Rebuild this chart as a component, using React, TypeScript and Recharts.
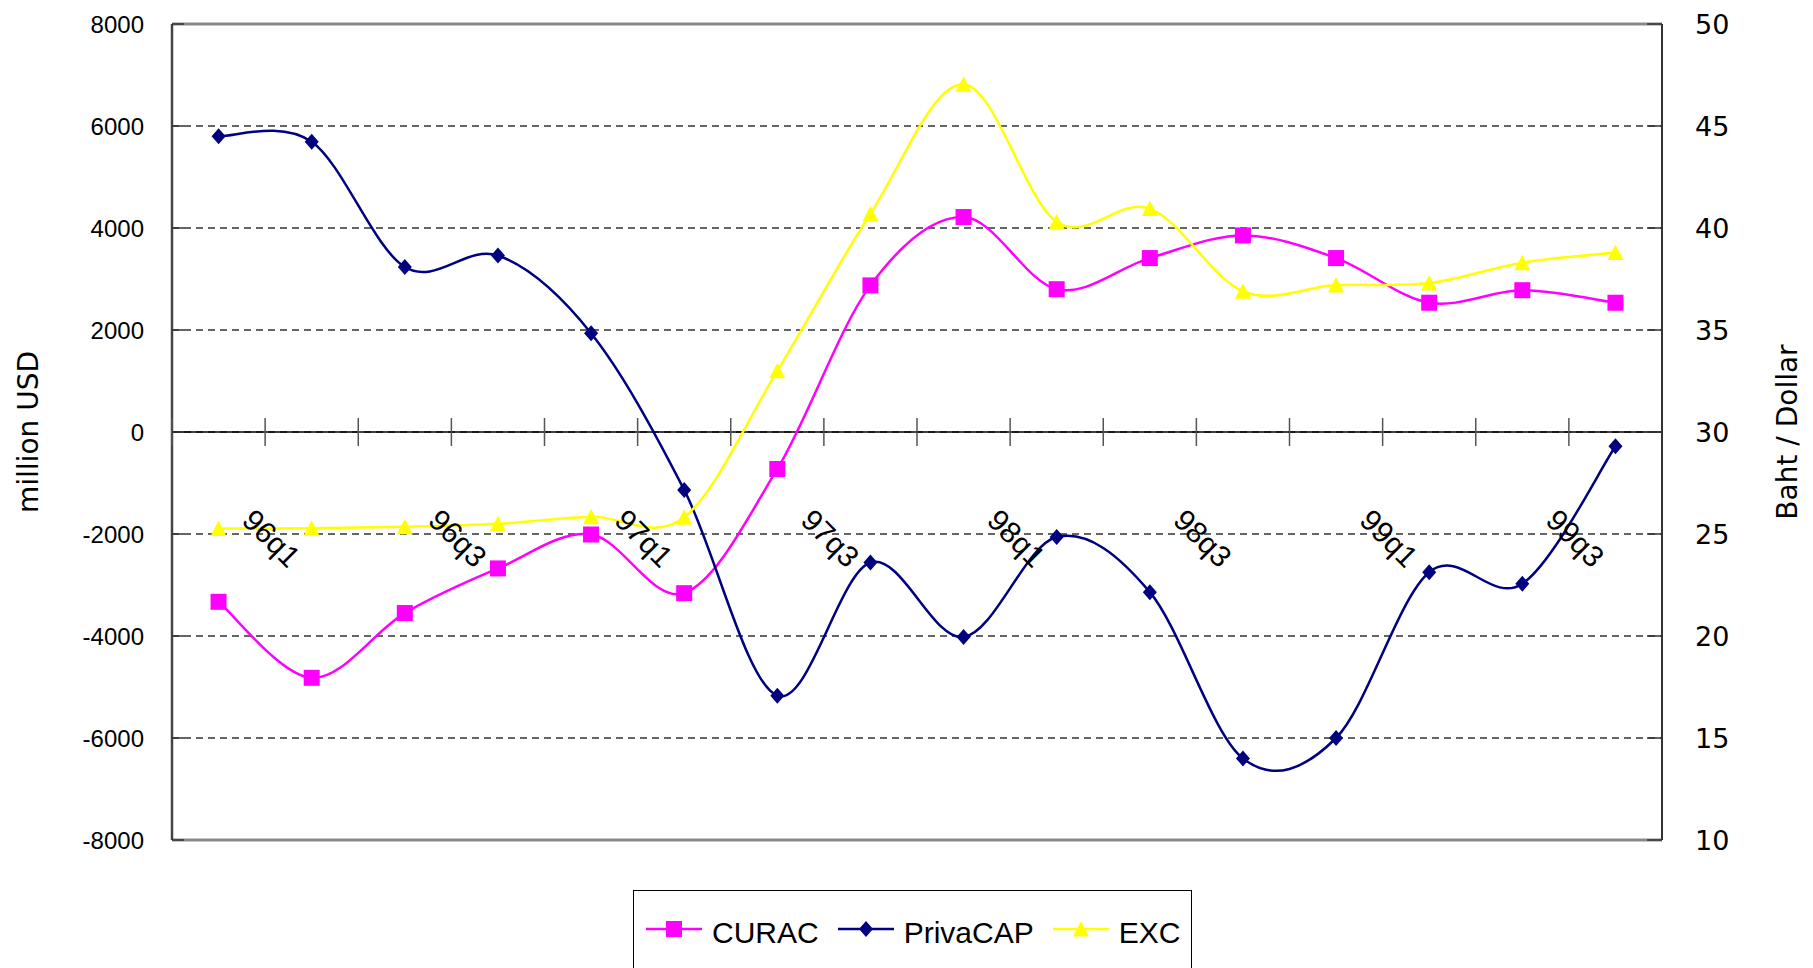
import React from 'react';
import { LineChart, Line, XAxis, YAxis, CartesianGrid, ReferenceLine, Legend } from 'recharts';

// quarterly figures
const quarters = ['96q1', '96q2', '96q3', '96q4', '97q1', '97q2', '97q3', '97q4', '98q1', '98q2', '98q3', '98q4', '99q1', '99q2', '99q3', '99q4'];
const curac = [-3330, -4820, -3550, -2675, -2010, -3160, -725, 2875, 4215, 2800, 3410, 3855, 3410, 2535, 2780, 2535];
const privaCap = [5800, 5690, 3235, 3460, 1935, -1135, -5170, -2560, -4020, -2060, -3140, -6400, -6000, -2750, -2975, -280];
const exc = [25.27, 25.28, 25.35, 25.5, 25.85, 25.82, 33.0, 40.7, 47.05, 40.3, 40.95, 36.9, 37.2, 37.3, 38.3, 38.8];

const seriesNames = ['CURAC', 'PrivaCAP', 'EXC'];
const leftTicks = [-8000, -6000, -4000, -2000, 0, 2000, 4000, 6000, 8000];
const rightTicks = [10, 15, 20, 25, 30, 35, 40, 45, 50];

const data = quarters.map((q, i) => ({ q, CURAC: curac[i], PrivaCAP: privaCap[i], EXC: exc[i] }));

const W = 1813;
const H = 968;
const TOP = 24;
const LEFT_W = 172;
const RIGHT_W = 151;
const X_H = 128;
const PLOT_H = H - TOP - X_H;
const BAND = (W - LEFT_W - RIGHT_W) / quarters.length;
const ZERO_Y = TOP + PLOT_H / 2;

const SANS = '"Liberation Sans", Arial, sans-serif';
const WIDE = '"DejaVu Sans", Verdana, sans-serif';

const COLORS: Record<string, string> = { CURAC: '#ff00ff', PrivaCAP: '#000080', EXC: '#ffff00' };

// Excel-style smoothing (Catmull-Rom through the points)
const excelSmooth = (context: any) => {
  let pts: number[][] = [];
  return {
    areaStart() {},
    areaEnd() {},
    lineStart() {
      pts = [];
    },
    point(x: number, y: number) {
      pts.push([+x, +y]);
    },
    lineEnd() {
      const n = pts.length;
      if (!n) return;
      context.moveTo(pts[0][0], pts[0][1]);
      for (let i = 0; i < n - 1; i++) {
        const p0 = pts[Math.max(i - 1, 0)];
        const p1 = pts[i];
        const p2 = pts[i + 1];
        const p3 = pts[Math.min(i + 2, n - 1)];
        context.bezierCurveTo(
          p1[0] + (p2[0] - p0[0]) / 6, p1[1] + (p2[1] - p0[1]) / 6,
          p2[0] - (p3[0] - p1[0]) / 6, p2[1] - (p3[1] - p1[1]) / 6,
          p2[0], p2[1]
        );
      }
    },
  };
};

function Marker({ name, cx, cy }: { name: string; cx: number; cy: number }) {
  const fill = COLORS[name];
  if (name === 'CURAC') return <rect x={cx - 8} y={cy - 8} width={16} height={16} fill={fill} />;
  if (name === 'PrivaCAP')
    return <polygon points={`${cx},${cy - 8} ${cx + 7},${cy} ${cx},${cy + 8} ${cx - 7},${cy}`} fill={fill} />;
  return <polygon points={`${cx},${cy - 8} ${cx + 8},${cy + 7.5} ${cx - 8},${cy + 7.5}`} fill={fill} />;
}

const dotFor = (name: string) => (p: any) => {
  if (p.cx == null || p.cy == null) return <g key={`${name}-${p.index}`} />;
  return (
    <g key={`${name}-${p.index}`}>
      <Marker name={name} cx={p.cx} cy={p.cy} />
    </g>
  );
};

const QuarterTick = (props: any) => {
  const { x, index, payload } = props;
  const edge = x - BAND / 2;
  const tx = x + 22;
  const ty = ZERO_Y + 90;
  return (
    <g>
      <line x1={edge} x2={edge} y1={ZERO_Y - 14} y2={ZERO_Y + 14} stroke="#555" strokeWidth={1.5} />
      {index % 2 === 0 && (
        <text x={tx} y={ty} transform={`rotate(45, ${tx}, ${ty})`} fontSize={30} fontFamily={SANS} fill="#000">
          {payload.value}
        </text>
      )}
    </g>
  );
};

const LeftTick = (props: any) => {
  const { x, y, payload } = props;
  return (
    <g>
      <line x1={x + 28} x2={x + 40} y1={y} y2={y} stroke="#333" strokeWidth={1.5} />
      <text x={x} y={y} dy="0.36em" textAnchor="end" fontSize={24} fontFamily={SANS} fill="#000">
        {payload.value}
      </text>
    </g>
  );
};

const RightTick = (props: any) => {
  const { x, y, payload } = props;
  return (
    <g>
      <line x1={x - 48} x2={x - 33} y1={y} y2={y} stroke="#333" strokeWidth={1.5} />
      <text x={x} y={y} dy="0.36em" textAnchor="start" fontSize={27} fontFamily={WIDE} fill="#000">
        {payload.value}
      </text>
    </g>
  );
};

const LegendBox = () => (
  <div
    style={{
      width: 559,
      height: 86,
      border: '1.5px solid #000',
      boxSizing: 'border-box',
      background: '#fff',
      display: 'flex',
      alignItems: 'center',
      paddingLeft: 12,
      fontFamily: SANS,
      fontSize: 30,
      color: '#000',
      whiteSpace: 'nowrap',
    }}
  >
    {seriesNames.map((name) => (
      <div key={name} style={{ display: 'flex', alignItems: 'center', marginRight: 19 }}>
        <svg width={56} height={30} style={{ display: 'block', marginTop: -8 }}>
          <line x1={0} x2={56} y1={15} y2={15} stroke={COLORS[name]} strokeWidth={2.5} />
          <Marker name={name} cx={28} cy={15} />
        </svg>
        <span style={{ marginLeft: 10 }}>{name}</span>
      </div>
    ))}
  </div>
);

export default function App() {
  return (
    <div style={{ position: 'absolute', left: 0, top: 0, width: W, height: H, overflow: 'hidden', background: '#fff' }}>
      <LineChart width={W} height={H} data={data} margin={{ top: TOP, right: 0, bottom: 0, left: 0 }}>
        <CartesianGrid yAxisId="left" horizontal vertical={false} stroke="#333" strokeWidth={1.5} strokeDasharray="7 5" />
        <XAxis
          dataKey="q"
          scale="band"
          height={X_H}
          interval={0}
          tickLine={false}
          axisLine={{ stroke: '#888', strokeWidth: 3 }}
          tick={<QuarterTick />}
        />
        <YAxis
          yAxisId="left"
          width={LEFT_W}
          domain={[-8000, 8000]}
          ticks={leftTicks}
          tickSize={0}
          tickMargin={28}
          tickLine={false}
          axisLine={{ stroke: '#444', strokeWidth: 2.5 }}
          tick={<LeftTick />}
          label={{
            value: 'million USD',
            angle: -90,
            position: 'insideLeft',
            offset: 28,
            style: { textAnchor: 'middle', fontSize: 28, fontFamily: WIDE, fill: '#000' },
          }}
        />
        <YAxis
          yAxisId="right"
          orientation="right"
          width={RIGHT_W}
          domain={[10, 50]}
          ticks={rightTicks}
          tickSize={0}
          tickMargin={33}
          tickLine={false}
          axisLine={{ stroke: '#333', strokeWidth: 2 }}
          tick={<RightTick />}
          label={{
            value: 'Baht / Dollar',
            angle: -90,
            position: 'insideRight',
            offset: 26,
            style: { textAnchor: 'middle', fontSize: 28, fontFamily: WIDE, fill: '#000' },
          }}
        />
        <ReferenceLine yAxisId="left" y={8000} stroke="#888" strokeWidth={3} />
        <ReferenceLine yAxisId="left" y={0} stroke="#000" strokeWidth={1.5} />
        <Line
          yAxisId="left"
          dataKey="CURAC"
          name="CURAC"
          type={excelSmooth as any}
          stroke={COLORS.CURAC}
          strokeWidth={2.5}
          dot={dotFor('CURAC')}
          activeDot={false}
          isAnimationActive={false}
        />
        <Line
          yAxisId="left"
          dataKey="PrivaCAP"
          name="PrivaCAP"
          type={excelSmooth as any}
          stroke={COLORS.PrivaCAP}
          strokeWidth={2.5}
          dot={dotFor('PrivaCAP')}
          activeDot={false}
          isAnimationActive={false}
        />
        <Line
          yAxisId="right"
          dataKey="EXC"
          name="EXC"
          type={excelSmooth as any}
          stroke={COLORS.EXC}
          strokeWidth={2.5}
          dot={dotFor('EXC')}
          activeDot={false}
          isAnimationActive={false}
        />
        <Legend
          layout="horizontal"
          align="center"
          verticalAlign="middle"
          wrapperStyle={{ left: 633, top: 890, width: 559, height: 86 }}
          content={<LegendBox />}
        />
      </LineChart>
    </div>
  );
}
